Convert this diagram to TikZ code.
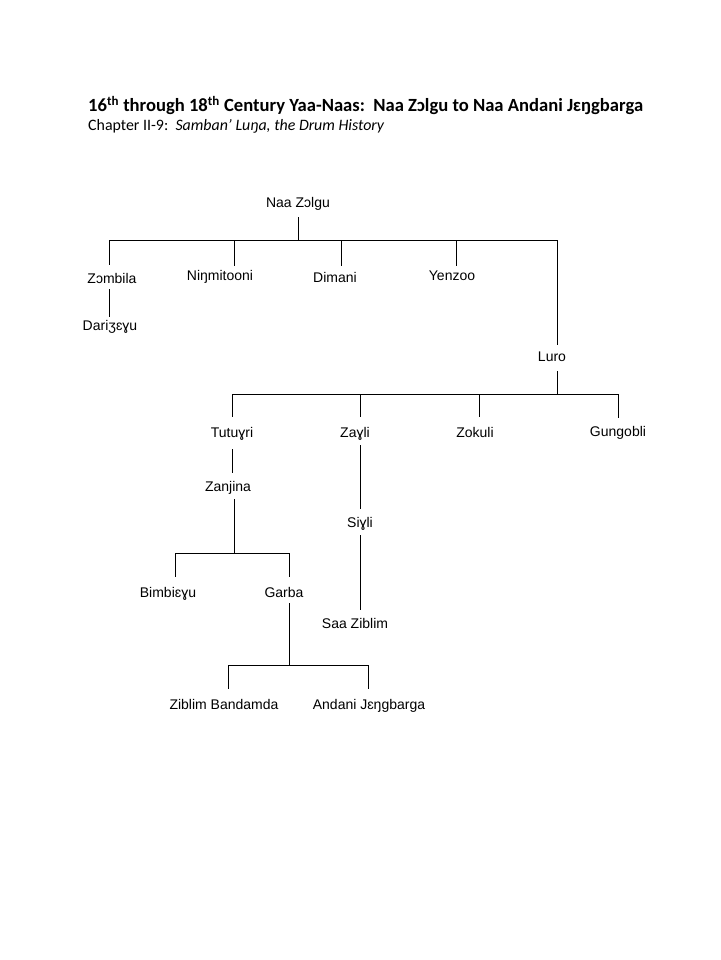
\documentclass[tikz,border=0pt]{standalone}
\usepackage{fontspec}
\setmainfont{Liberation Sans}
\newfontfamily\calib{Carlito}
\usetikzlibrary{calc}
\begin{document}
\begin{tikzpicture}[x=1pt,y=-1pt,
  lab/.style={font=\fontsize{14}{16}\selectfont, inner sep=0pt, text height=10pt, text depth=3pt, minimum height=26pt, yshift=-1.5pt},
  conn/.style={line width=1pt, draw=black}]
\useasboundingbox (0,0) rectangle (720,960);
\fill[white] (0,0) rectangle (720,960);
% titles
\node[anchor=base west, inner sep=0pt, font=\calib\bfseries\fontsize{18.6}{22}\selectfont] (title) at (88,112)
  {16\textsuperscript{th} through 18\textsuperscript{th} Century Yaa-Naas:\ \ Naa Zɔlgu to Naa Andani Jɛŋgbarga};
\node[anchor=base west, inner sep=0pt, font=\calib\fontsize{15.9}{18}\selectfont] (sub) at (88,131)
  {Chapter II-9:\ \ \textit{Samban’ Luŋa, the Drum History}};
% nodes
\node[lab] (nz)  at (298,202) {Naa Zɔlgu};
\node[lab] (zom) at (112,278) {Zɔmbila};
\node[lab] (nin) at (220,275) {Niŋmitooni};
\node[lab] (dim) at (335,277) {Dimani};
\node[lab] (yen) at (452,275) {Yenzoo};
\node[lab] (dar) at (110,325) {Dariʒɛɣu};
\node[lab] (luro) at (552,356) {Luro};
\node[lab] (tut) at (232,432) {Tutuɣri};
\node[lab] (zay) at (355,432) {Zaɣli};
\node[lab] (zok) at (475,432) {Zokuli};
\node[lab] (gun) at (618,431) {Gungobli};
\node[lab] (zan) at (228,486) {Zanjina};
\node[lab] (siy) at (360,522) {Siɣli};
\node[lab] (saa) at (355,623) {Saa Ziblim};
\node[lab] (bim) at (168,592) {Bimbiɛɣu};
\node[lab] (gar) at (284,592) {Garba};
\node[lab] (zb)  at (224,704) {Ziblim Bandamda};
\node[lab] (aj)  at (369,704) {Andani Jɛŋgbarga};
% bar levels
\coordinate (b1) at (0,240);
\coordinate (b2) at (0,394);
\coordinate (b3) at (0,553);
\coordinate (b4) at (0,665);
% generation 1
\draw[conn] ($(nz.south)+(0,0.5)$) -- (nz.south |- b1);
\draw[conn] ($(zom.north|-b1)+(-3,0)$) -- ($(luro.north|-b1)+(5,0)$);
\draw[conn] ($(zom.north|-b1)+(-3,0)$) -- ($(zom.north)+(-3,-1.5)$);
\draw[conn] ($(nin.north|-b1)+(14,0)$) -- ($(nin.north)+(14,2.5)$);
\draw[conn] ($(dim.north|-b1)+(6,0)$) -- ($(dim.north)+(6,0.5)$);
\draw[conn] ($(yen.north|-b1)+(4,0)$) -- ($(yen.north)+(4,2.5)$);
\draw[conn] ($(luro.north|-b1)+(5,0)$) -- ($(luro.north)+(5,0.5)$);
\draw[conn] ($(zom.south)+(-3,-3.5)$) -- ($(dar.north)+(-1,3.5)$);
% generation 2
\draw[conn] ($(luro.south)+(5,0.5)$) -- ($(luro.south|-b2)+(5,0)$);
\draw[conn] (tut.north|-b2) -- (gun.north|-b2);
\draw[conn] (tut.north|-b2) -- ($(tut.north)+(0,-3.5)$);
\draw[conn] ($(zay.north|-b2)+(5,0)$) -- ($(zay.north)+(5,-3.5)$);
\draw[conn] ($(zok.north|-b2)+(4,0)$) -- ($(zok.north)+(4,-3.5)$);
\draw[conn] (gun.north|-b2) -- ($(gun.north)+(0,-1.5)$);
% generation 3
\draw[conn] ($(tut.south)+(0,2.5)$) -- ($(zan.north)+(4,-1.5)$);
\draw[conn] ($(zay.south)+(5,-1.5)$) -- ($(siy.north)+(0,-1.5)$);
\draw[conn] ($(siy.south)+(0,-1.5)$) -- ($(saa.north)+(5,-1.5)$);
% generation 4
\draw[conn] ($(zan.south)+(6,-1.5)$) -- ($(zan.south|-b3)+(6,0)$);
\draw[conn] ($(bim.north|-b3)+(7,0)$) -- ($(gar.north|-b3)+(5,0)$);
\draw[conn] ($(bim.north|-b3)+(7,0)$) -- ($(bim.north)+(7,-3.5)$);
\draw[conn] ($(gar.north|-b3)+(5,0)$) -- ($(gar.north)+(5,-3.5)$);
% generation 5
\draw[conn] ($(gar.south)+(5,-3.5)$) -- ($(gar.south|-b4)+(5,0)$);
\draw[conn] ($(zb.north|-b4)+(4,0)$) -- ($(aj.north|-b4)+(-1,0)$);
\draw[conn] ($(zb.north|-b4)+(4,0)$) -- ($(zb.north)+(4,-3.5)$);
\draw[conn] ($(aj.north|-b4)+(-1,0)$) -- ($(aj.north)+(-1,-3.5)$);
\end{tikzpicture}
\end{document}
